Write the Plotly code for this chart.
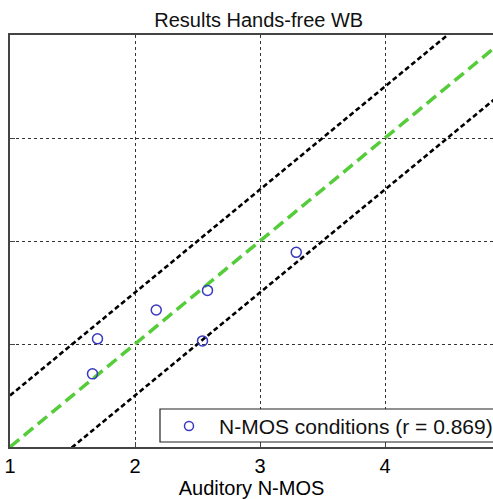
import plotly.graph_objects as go

# Data
auditory_nmos = [1.66, 1.70, 2.17, 2.54, 2.58, 3.29]
predicted_nmos = [1.71, 2.05, 2.33, 2.03, 2.52, 2.89]

ref_x = [1.0, 5.0]
ref_y = [1.0, 5.0]
upper_y = [1.5, 5.5]
lower_y = [0.5, 4.5]

x_ticks = [1, 2, 3, 4]
y_ticks = [1, 2, 3, 4, 5]

legend_label = "N-MOS conditions (r = 0.869)"
marker_color = "#3838c0"

# pixel layout helpers
W, H = 493, 499
ML, MR, MT, MB = 10, 0, 35, 52
PW, PH = W - ML - MR, H - MT - MB


def px_x(p):
    return (p - ML) / PW


def px_y(p):
    return (H - MB - p) / PH


fig = go.Figure()

fig.add_trace(go.Scatter(x=ref_x, y=upper_y, mode="lines",
                         line=dict(color="black", width=2.6, dash="5px,3px"),
                         showlegend=False, hoverinfo="skip"))
fig.add_trace(go.Scatter(x=ref_x, y=lower_y, mode="lines",
                         line=dict(color="black", width=2.6, dash="5px,3px"),
                         showlegend=False, hoverinfo="skip"))
fig.add_trace(go.Scatter(x=ref_x, y=ref_y, mode="lines",
                         line=dict(color="#55cc3a", width=3.5, dash="12px,6px"),
                         showlegend=False, hoverinfo="skip"))
fig.add_trace(go.Scatter(x=auditory_nmos, y=predicted_nmos, mode="markers",
                         marker=dict(symbol="circle-open", size=10, color=marker_color,
                                     line=dict(width=1.5, color=marker_color)),
                         name=legend_label, showlegend=False))

# legend box (runs off the right edge of the page, as in the reference)
fig.add_shape(type="rect", xref="paper", yref="paper",
              x0=px_x(160), x1=1.2, y0=px_y(442), y1=px_y(409),
              line=dict(color="#222", width=1.2), fillcolor="white", layer="above")
fig.add_shape(type="circle", xref="paper", yref="paper",
              x0=px_x(184.5), x1=px_x(193.5), y0=px_y(430.5), y1=px_y(421.5),
              line=dict(color=marker_color, width=1.5), fillcolor="rgba(0,0,0,0)",
              layer="above")
fig.add_annotation(xref="paper", yref="paper", x=px_x(217), y=px_y(426),
                   xanchor="left", yanchor="middle", showarrow=False,
                   text=legend_label, font=dict(size=21, color="#111"))

fig.update_layout(
    width=W, height=H,
    margin=dict(l=ML, r=MR, t=MT, b=MB),
    paper_bgcolor="white", plot_bgcolor="white",
    font=dict(family="Liberation Sans, Arial, sans-serif", color="black"),
    title=dict(text="Results Hands-free WB", x=0.515, xref="paper", xanchor="center",
               y=0.96, yref="container", yanchor="middle",
               font=dict(size=20, color="#111")),
    showlegend=False,
    xaxis=dict(range=[1, 4.864], tickvals=x_ticks, ticktext=[str(t) for t in x_ticks],
               showgrid=True, gridcolor="#333", gridwidth=1.2, griddash="3px,3px",
               zeroline=False, showline=True, linecolor="#444", linewidth=1.5,
               mirror=True, ticks="inside", ticklen=5, tickcolor="#444",
               tickfont=dict(size=20),
               title=dict(text="Auditory N-MOS", font=dict(size=20), standoff=4)),
    yaxis=dict(range=[1, 5], tickvals=y_ticks, showticklabels=False,
               showgrid=True, gridcolor="#333", gridwidth=1.2, griddash="3px,3px",
               zeroline=False, showline=True, linecolor="#444", linewidth=1.5,
               mirror=False, ticks="inside", ticklen=5, tickcolor="#444"),
)

fig.write_html("out.html")
